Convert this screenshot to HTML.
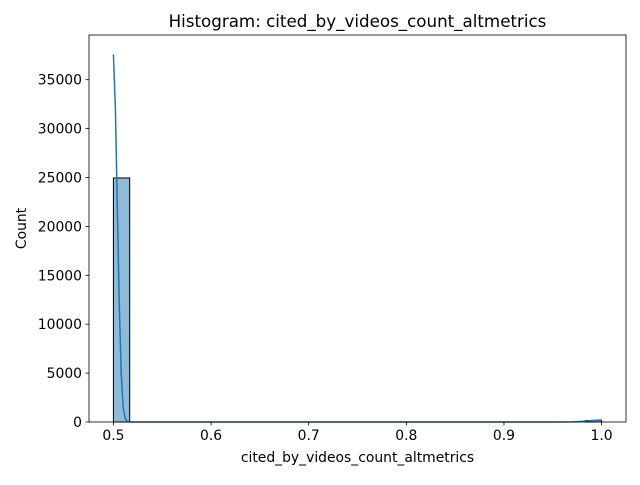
<!DOCTYPE html>
<html><head><meta charset="utf-8"><style>
body{margin:0;background:#fff;}
svg text{font-family:"DejaVu Sans","Liberation Sans",sans-serif;fill:#000;}
</style></head><body>
<svg id="chart" width="640" height="480" viewBox="0 0 640 480" xmlns="http://www.w3.org/2000/svg">
<rect width="640" height="480" fill="#fff"/>
<g id="plot"></g>
</svg>
<script>
const binStart = 0.5;
const binWidth = 0.5/30;
const counts = [24950,0,0,0,0,0,0,0,0,0,0,0,0,0,0,0,0,0,0,0,0,0,0,0,0,0,0,0,0,150];
const kdeX = [0.5,0.502,0.504,0.506,0.508,0.51,0.512,0.514,0.516,0.52,0.6,0.8,0.95,0.97,0.98,0.99,1.0];
const kdeY = [37600,32000,22000,12000,5000,1500,400,80,10,0,0,0,0,10,60,150,200];
const xTicks = [0.5,0.6,0.7,0.8,0.9,1.0];
const xTickLabels = ["0.5","0.6","0.7","0.8","0.9","1.0"];
const yTicks = [0,5000,10000,15000,20000,25000,30000,35000];
const yTickLabels = ["0","5000","10000","15000","20000","25000","30000","35000"];

const L=89,R=626,T=35,B=422;
const xMin=0.475,xMax=1.025,yMax=39570;
const sx=v=>L+(v-xMin)/(xMax-xMin)*(R-L);
const sy=v=>B-v/yMax*(B-T);
const NS="http://www.w3.org/2000/svg";
const g=document.getElementById('plot');
function mk(tag,attrs){const e=document.createElementNS(NS,tag);for(const k in attrs)e.setAttribute(k,attrs[k]);g.appendChild(e);return e;}

counts.forEach((c,i)=>{
  if(c<=0)return;
  const x0=sx(binStart+i*binWidth),x1=sx(binStart+(i+1)*binWidth);
  const r=mk('rect',{x:x0,y:sy(c),width:x1-x0,height:B-sy(c),fill:'rgba(31,119,180,0.5)',stroke:'#000','stroke-width':1});
  
  
});
const pts=kdeX.map((x,i)=>sx(x).toFixed(1)+','+sy(kdeY[i]).toFixed(1)).join(' ');
const kde=mk('polyline',{points:pts,fill:'none',stroke:'#1f77b4','stroke-width':1.5});



const frame=mk('rect',{x:L,y:T,width:R-L,height:B-T,fill:'none',stroke:'#000','stroke-width':0.8});



xTicks.forEach((v,i)=>{
  const x=sx(v);
  const t=mk('line',{x1:x,x2:x,y1:B,y2:B+3.5,stroke:'#000','stroke-width':0.8});
  
  
  const l=mk('text',{x:x,y:B+18,'text-anchor':'middle','font-size':13.9});
  l.textContent=xTickLabels[i];
  
  
});
yTicks.forEach((v,i)=>{
  const y=sy(v);
  const t=mk('line',{x1:L-3.5,x2:L,y1:y,y2:y,stroke:'#000','stroke-width':0.8});
  
  
  const l=mk('text',{x:L-7,y:y+5,'text-anchor':'end','font-size':13.9});
  l.textContent=yTickLabels[i];
  
  
});
const title=mk('text',{x:(L+R)/2,y:T-8,'text-anchor':'middle','font-size':16.7});
title.textContent='Histogram: cited_by_videos_count_altmetrics';


const xl=mk('text',{x:(L+R)/2,y:462,'text-anchor':'middle','font-size':13.9});
xl.textContent='cited_by_videos_count_altmetrics';


const yl=mk('text',{x:0,y:0,'text-anchor':'middle','font-size':13.9,transform:'translate(26,'+((T+B)/2)+') rotate(-90)'});
yl.textContent='Count';


</script>
</body></html>
